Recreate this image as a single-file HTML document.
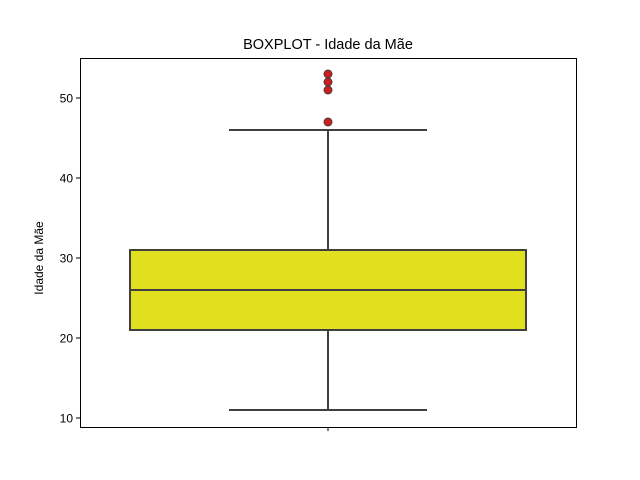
<!DOCTYPE html>
<html><head><meta charset="utf-8"><style>body{margin:0;background:#fff}svg{display:block;font-family:"Liberation Sans","DejaVu Sans",sans-serif}</style></head>
<body>
<svg id="chart" width="640" height="480">
<rect x="0" y="0" width="640" height="480" fill="#fff"/>
<text x="328" y="49" text-anchor="middle" font-size="14.5">BOXPLOT - Idade da Mãe</text>
<text transform="translate(43,258) rotate(-90)" text-anchor="middle" font-size="12">Idade da Mãe</text>
<g id="marks"></g>
<rect x="80.5" y="58.5" width="496" height="369" fill="none" stroke="#000" stroke-width="1"/>
</svg>
<script>
const yTicks = [10, 20, 30, 40, 50];
const stats = { min: 11, q1: 21, median: 26, q3: 31, max: 46 };
const outliers = [47, 51, 52, 53];
const category = ["Idade da Mãe"];

const ns = "http://www.w3.org/2000/svg";
const g = document.getElementById("marks");
const yMin = 8.875, yMax = 55, plotTop = 58, plotBottom = 427;
const y = v => plotBottom - (v - yMin) / (yMax - yMin) * (plotBottom - plotTop);
const cx = 328, halfW = 198, capHalf = 99;
function el(tag, attrs) {
  const e = document.createElementNS(ns, tag);
  for (const k in attrs) e.setAttribute(k, attrs[k]);
  g.appendChild(e);
  return e;
}
yTicks.forEach(t => {
  const l = el("line", {x1: 76, x2: 80, y1: y(t), y2: y(t), stroke: "#000"});
  
  
  const tx = el("text", {x: 73, y: y(t) + 4.5, "text-anchor": "end", "font-size": 12});
  tx.textContent = t;
  
  
});
const xt = el("line", {x1: cx, x2: cx, y1: 427, y2: 431, stroke: "#000"});


const c = "#3f3f3f";
const wl = el("line", {x1: cx, x2: cx, y1: y(stats.q1), y2: y(stats.min), stroke: c, "stroke-width": 2});


const wu = el("line", {x1: cx, x2: cx, y1: y(stats.q3), y2: y(stats.max), stroke: c, "stroke-width": 2});


const cl = el("line", {x1: cx - capHalf, x2: cx + capHalf, y1: y(stats.min), y2: y(stats.min), stroke: c, "stroke-width": 2});


const cu = el("line", {x1: cx - capHalf, x2: cx + capHalf, y1: y(stats.max), y2: y(stats.max), stroke: c, "stroke-width": 2});


const box = el("rect", {x: cx - halfW, y: y(stats.q3), width: 2 * halfW, height: y(stats.q1) - y(stats.q3), fill: "#e0e01e", stroke: c, "stroke-width": 2});


const med = el("line", {x1: cx - halfW, x2: cx + halfW, y1: y(stats.median), y2: y(stats.median), stroke: c, "stroke-width": 2});


outliers.forEach(v => {
  const o = el("circle", {cx: cx, cy: y(v), r: 4, fill: "#d01c1c", stroke: c, "stroke-width": 1});
  
  
});
</script>
</body></html>
